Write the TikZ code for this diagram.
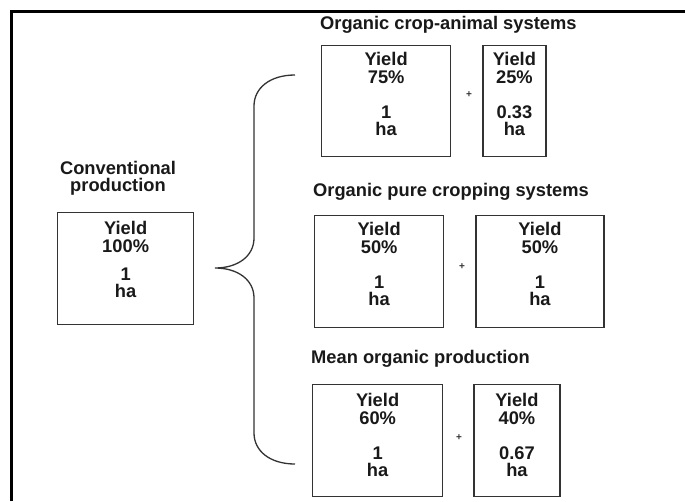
\documentclass[tikz,border=0pt]{standalone}
\usepackage{fontspec}
\setmainfont{Liberation Sans}
\usetikzlibrary{positioning}
\tikzset{
  yieldbox/.style={draw=black!80, line width=1.3pt, minimum height=112pt, inner sep=0pt, anchor=north west},
  yieldtext/.style={align=center, inner sep=0pt, font=\bfseries\fontsize{18.3}{17.5}\selectfont, text=black!90},
  heading/.style={inner sep=0pt, font=\bfseries\fontsize{18.3}{17.5}\selectfont, text=black!90},
  plussign/.style={inner sep=0pt, font=\bfseries\fontsize{10}{10}\selectfont, text=black!80},
  brace/.style={draw=black!80, line width=1.3pt}
}
\begin{document}
\begin{tikzpicture}[x=1pt, y=-1pt]
\useasboundingbox (0,0) rectangle (685,501);

% Frame
\draw[line width=3pt] (11,501) -- (11,11) -- (685,11);

% Conventional production
\node[heading, align=center, anchor=north] (convtitle) at (118,161) {Conventional\\production};
\node[yieldbox, minimum width=136pt] (conv) at (57,212) {};
\node[yieldtext, below=9.5pt of conv.north] (convtext) {Yield\\100\%\\[10.5pt]1\\ha};

% Organic crop-animal systems
\node[heading, anchor=base west] (croptitle) at (320,29.5) {Organic crop-animal systems};
\node[yieldbox, minimum width=129pt, minimum height=111pt] (crop1) at (321,45) {};
\node[yieldbox, minimum width=63pt, minimum height=111pt, right=31pt of crop1] (crop2) {};
\node[yieldtext, below=7.5pt of crop1.north] (crop1text) {Yield\\75\%\\[17.5pt]1\\ha};
\node[yieldtext, below=7.5pt of crop2.north] (crop2text) {Yield\\25\%\\[17.5pt]0.33\\ha};
\node[plussign] (cropplus) at (469,95) {+};

% Organic pure cropping systems
\node[heading, anchor=base west] (puretitle) at (313,196.5) {Organic pure cropping systems};
\node[yieldbox, minimum width=129pt] (pure1) at (314,215) {};
\node[yieldbox, minimum width=128pt, right=31pt of pure1] (pure2) {};
\node[yieldtext, below=7.5pt of pure1.north] (pure1text) {Yield\\50\%\\[17.5pt]1\\ha};
\node[yieldtext, below=7.5pt of pure2.north] (pure2text) {Yield\\50\%\\[17.5pt]1\\ha};
\node[plussign] (pureplus) at (462,267) {+};

% Mean organic production
\node[heading, anchor=base west] (meantitle) at (311,363.5) {Mean organic production};
\node[yieldbox, minimum width=130pt] (mean1) at (312,384) {};
\node[yieldbox, minimum width=86pt, right=30pt of mean1] (mean2) {};
\node[yieldtext, below=9.5pt of mean1.north] (mean1text) {Yield\\60\%\\[17.5pt]1\\ha};
\node[yieldtext, below=9.5pt of mean2.north] (mean2text) {Yield\\40\%\\[17.5pt]0.67\\ha};
\node[plussign] (meanplus) at (459,438) {+};

% Brace
\coordinate (bracetop) at (295,75);
\coordinate (bracemid) at (215,268);
\coordinate (bracebot) at (295,464);
\draw[brace] (bracetop) .. controls (270,75) and (254,88) .. (254,106)
  -- (254,238) .. controls (254,256) and (238,268) .. (bracemid)
  .. controls (238,268) and (254,280) .. (254,298)
  -- (254,433) .. controls (254,451) and (270,464) .. (bracebot);
\end{tikzpicture}
\end{document}
